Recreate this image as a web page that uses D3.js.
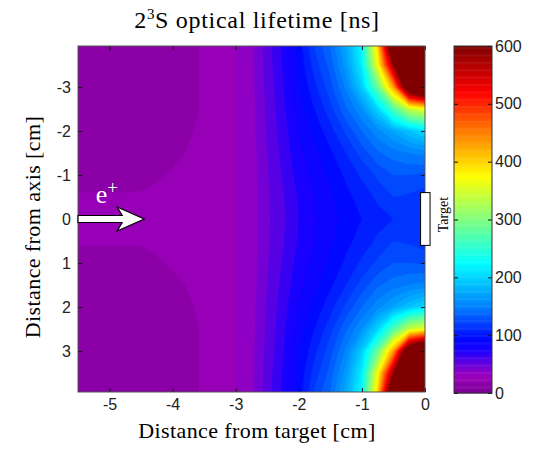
<!DOCTYPE html>
<html>
<head>
<meta charset="utf-8">
<script src="https://cdn.jsdelivr.net/npm/d3@7"></script>
<style>
body { margin: 0; background: #fff; }
text { font-family: "Liberation Serif", serif; }
.tick text { font-family: "Liberation Sans", sans-serif; font-size: 16px; fill: #222; }
.tick line { stroke: #111; }
</style>
</head>
<body>
<svg id="chart" width="537" height="449"></svg>
<script>
// sample grid: distance from target (cm) and |distance from axis| (cm)
var X_GRID = [-5.5, -5.25, -5, -4.75, -4.5, -4.25, -4, -3.75, -3.5, -3.25, -3, -2.75,
              -2.5, -2.25, -2, -1.75, -1.5, -1.25, -1, -0.75, -0.5, -0.25, 0];
var R_GRID = [0, 0.5, 1, 1.5, 2, 2.5, 3, 3.5, 4];

// lifetime in ns, one row per R_GRID value (map is symmetric about the axis)
var LIFETIME = [
    [22, 22, 22, 22, 22, 22, 23, 23, 24, 26, 30, 35, 48, 58, 70, 79, 86, 94, 100, 106, 110, 112, 112],
    [21, 21, 21, 21, 21, 22, 22, 23, 24, 26, 30, 35, 48, 59, 71, 80, 88, 97, 104, 112, 120, 118, 114],
    [16, 16, 16, 16, 17, 19, 21, 22, 24, 26, 30, 35, 49, 61, 74, 83, 92, 102, 112, 122, 130, 130, 128],
    [15, 15, 15, 15, 15, 16, 18, 20.5, 23, 26, 30, 35, 50, 63, 77, 87, 98, 110, 124, 138, 145, 150, 153],
    [15, 15, 15, 15, 15, 15, 16, 19, 22, 25, 30, 36, 51, 65, 81, 93, 106, 122, 140, 156, 172, 189, 205],
    [15, 15, 15, 15, 15, 15, 15, 18, 21, 25, 30, 36, 52, 67, 85, 100, 116, 138, 160, 200, 270, 340, 362],
    [15, 15, 15, 15, 15, 15, 15, 18, 21, 25, 30, 37, 53, 69, 89, 107, 126, 152, 195, 285, 430, 680, 760],
    [15, 15, 15, 15, 15, 15, 15, 18, 21, 25, 30, 37, 54, 71, 92, 114, 134, 165, 215, 365, 585, 1000, 1300],
    [15, 15, 15, 15, 15, 15, 15, 18, 21, 25, 30, 37, 55, 72, 94, 122, 141, 175, 224, 402, 720, 1400, 1500]
];

var X_TICKS = [-5, -4, -3, -2, -1, 0];
var Y_TICKS = [-3, -2, -1, 0, 1, 2, 3];
var CBAR_TICKS = [0, 100, 200, 300, 400, 500, 600];

// colour map (value in ns -> colour), jet-like with a purple bottom
var CMAP_STOPS = [0, 15, 22, 30, 40, 55, 75, 95, 150, 225, 300, 375, 450, 520, 600];
var CMAP_COLORS = ["#7c0094", "#8a00a6", "#9400b2", "#9c00bc", "#8400cc", "#5800e4", "#1800ff", "#0008ff",
                   "#0080ff", "#00ffff", "#80ff80", "#ffff00", "#ff8000", "#ff0000", "#800000"];

// target holder, in cm
var TARGET_X = [-0.07, 0.08];
var TARGET_Y = [-0.6, 0.6];

var PLOT = {left: 78, right: 425, top: 46, bottom: 392};
var CBAR = {left: 454, right: 492};

var svg = d3.select("#chart");

var x = d3.scaleLinear().domain([-5.5, 0]).range([PLOT.left, PLOT.right]);
var y = d3.scaleLinear().domain([-3.93, 3.93]).range([PLOT.top, PLOT.bottom]);
var cbar = d3.scaleLinear().domain([0, 600]).range([PLOT.bottom + 1, PLOT.top]);
var color = d3.scaleLinear().domain(CMAP_STOPS).range(CMAP_COLORS).clamp(true);

/**
 * Build the full (mirrored) grid of values for d3.contours
 */
function build_grid() {
    var nx = X_GRID.length, nr = R_GRID.length;
    var ny = 2 * nr - 1;
    var values = new Array(nx * ny);
    for (var j = 0; j < ny; j++) {
        var k = Math.abs(nr - 1 - j);
        for (var i = 0; i < nx; i++) {
            values[j * nx + i] = LIFETIME[k][i];
        }
    }
    return {nx: nx, ny: ny, values: values};
}

var grid = build_grid();
var dxGrid = X_GRID[1] - X_GRID[0];
var drGrid = R_GRID[1] - R_GRID[0];
var yStart = -R_GRID[R_GRID.length - 1];

// grid coordinates -> pixels (d3.contours puts sample i at i + 0.5)
var gridPath = d3.geoPath(d3.geoTransform({
    point: function(gx, gy) {
        this.stream.point(x(X_GRID[0] + (gx - 0.5) * dxGrid), y(yStart + (gy - 0.5) * drGrid));
    }
}));

var LEVELS = d3.range(0, 610, 10);
var contours = d3.contours().size([grid.nx, grid.ny]).thresholds(LEVELS)(grid.values);

svg.append("clipPath").attr("id", "plotclip")
    .append("rect")
    .attr("x", PLOT.left).attr("y", PLOT.top)
    .attr("width", PLOT.right - PLOT.left).attr("height", PLOT.bottom - PLOT.top);

var plot = svg.append("g").attr("clip-path", "url(#plotclip)");
plot.selectAll("path.band")
    .data(contours)
    .enter().append("path")
    .attr("class", "band")
    .attr("d", gridPath)
    .attr("fill", function(d) { return color(d.value + 5); })
    .attr("stroke", function(d) { return color(d.value + 5); })
    .attr("stroke-width", 0.6);

// axes, MATLAB style ticks pointing inward on all sides
svg.append("g")
    .attr("transform", "translate(0," + PLOT.bottom + ")")
    .call(d3.axisBottom(x).tickValues(X_TICKS).tickSize(-4).tickPadding(7)
        .tickFormat(function(d) { return String(d); }))
    .call(function(g) { g.select(".domain").remove(); });
svg.append("g")
    .attr("transform", "translate(0," + PLOT.top + ")")
    .call(d3.axisTop(x).tickValues(X_TICKS).tickSize(-4).tickFormat(""))
    .call(function(g) { g.select(".domain").remove(); });
svg.append("g")
    .attr("transform", "translate(" + PLOT.left + ",0)")
    .call(d3.axisLeft(y).tickValues(Y_TICKS).tickSize(-4).tickPadding(7)
        .tickFormat(function(d) { return String(d); }))
    .call(function(g) { g.select(".domain").remove(); });
svg.append("g")
    .attr("transform", "translate(" + PLOT.right + ",0)")
    .call(d3.axisRight(y).tickValues(Y_TICKS).tickSize(-4).tickFormat(""))
    .call(function(g) { g.select(".domain").remove(); });

svg.append("rect")
    .attr("x", PLOT.left).attr("y", PLOT.top)
    .attr("width", PLOT.right - PLOT.left).attr("height", PLOT.bottom - PLOT.top)
    .attr("fill", "none").attr("stroke", "#555").attr("stroke-width", 1);

// target holder
svg.append("rect")
    .attr("x", x(TARGET_X[0])).attr("y", y(TARGET_Y[0]))
    .attr("width", x(TARGET_X[1]) - x(TARGET_X[0]))
    .attr("height", y(TARGET_Y[1]) - y(TARGET_Y[0]))
    .attr("fill", "#fff").attr("stroke", "#000").attr("stroke-width", 1);

// positron beam arrow
var y0 = y(0), ax0 = x(-5.5), ah = x(-4.8), at = x(-4.45);
svg.append("polygon")
    .attr("points", [[ax0, y0 - 3.5], [ah, y0 - 3.5], [ah - 5, y0 - 12], [at, y0],
                     [ah - 5, y0 + 12], [ah, y0 + 3.5], [ax0, y0 + 3.5]].join(" "))
    .attr("fill", "#fff").attr("stroke", "#000").attr("stroke-width", 1.2)
    .attr("stroke-linejoin", "miter");

var eplus = svg.append("text")
    .attr("x", x(-5.22)).attr("y", y(-0.36))
    .attr("fill", "#fff").style("font-size", "26px");
eplus.append("tspan").text("e");
eplus.append("tspan").attr("dy", -9).style("font-size", "19px").text("+");

// colour bar
var cbarSteps = d3.range(0, 600, 2);
svg.append("g").selectAll("rect")
    .data(cbarSteps)
    .enter().append("rect")
    .attr("x", CBAR.left)
    .attr("width", CBAR.right - CBAR.left)
    .attr("y", function(d) { return cbar(d + 2); })
    .attr("height", function(d) { return cbar(d) - cbar(d + 2) + 0.5; })
    .attr("fill", function(d) { return color(d + 1); });

svg.append("g")
    .attr("transform", "translate(" + CBAR.right + ",0)")
    .call(d3.axisRight(cbar).tickValues(CBAR_TICKS).tickSize(-4).tickPadding(3)
        .tickFormat(function(d) { return String(d); }))
    .call(function(g) { g.select(".domain").remove(); });
svg.append("g")
    .attr("transform", "translate(" + CBAR.left + ",0)")
    .call(d3.axisLeft(cbar).tickValues(CBAR_TICKS).tickSize(-4).tickFormat(""))
    .call(function(g) { g.select(".domain").remove(); });
svg.append("rect")
    .attr("x", CBAR.left).attr("y", PLOT.top)
    .attr("width", CBAR.right - CBAR.left).attr("height", PLOT.bottom + 1 - PLOT.top)
    .attr("fill", "none").attr("stroke", "#333").attr("stroke-width", 1);

svg.append("text")
    .attr("transform", "translate(448," + y(-0.1) + ") rotate(-90)")
    .attr("text-anchor", "middle")
    .style("font-size", "14px")
    .text("Target");

// titles
var title = svg.append("text")
    .attr("x", 257).attr("y", 28)
    .attr("text-anchor", "middle")
    .style("font-size", "24px")
    .style("letter-spacing", "0.7px");
title.append("tspan").text("2");
title.append("tspan").attr("dy", -9).style("font-size", "15px").text("3");
title.append("tspan").attr("dy", 9).text("S optical lifetime [ns]");

svg.append("text")
    .attr("x", 257).attr("y", 438)
    .attr("text-anchor", "middle")
    .style("font-size", "22px")
    .style("letter-spacing", "0.4px")
    .text("Distance from target [cm]");

svg.append("text")
    .attr("transform", "translate(40,227) rotate(-90)")
    .attr("text-anchor", "middle")
    .style("font-size", "22px")
    .style("letter-spacing", "0.4px")
    .text("Distance from axis [cm]");
</script>
</body>
</html>
